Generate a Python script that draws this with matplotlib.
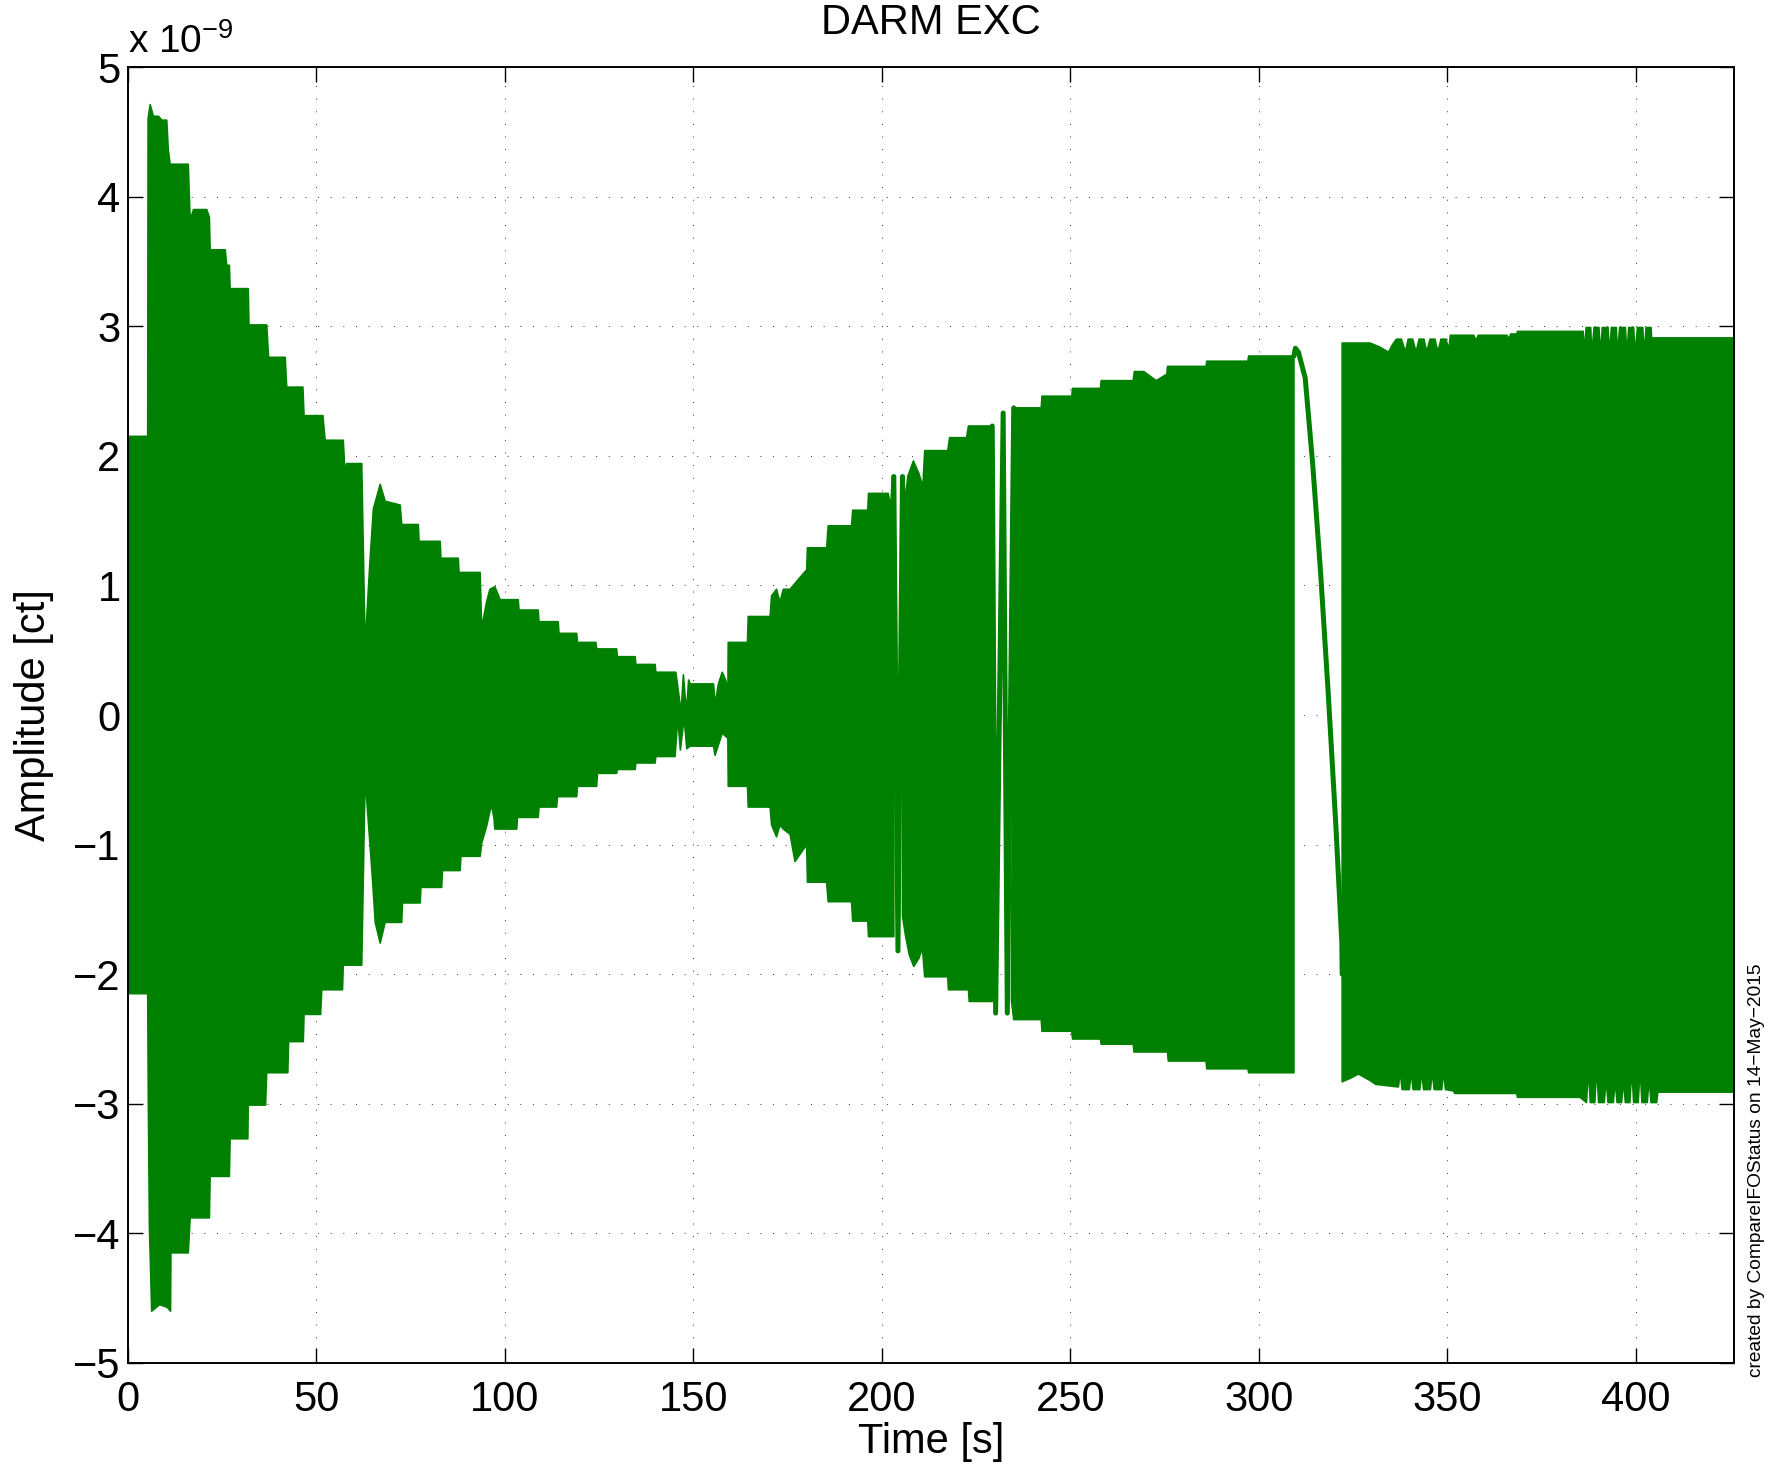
import numpy as np
import matplotlib
matplotlib.use("Agg")
import matplotlib.pyplot as plt
from matplotlib.ticker import FuncFormatter

plt.rcParams['font.family'] = ['Liberation Sans', 'DejaVu Sans']
plt.rcParams['mathtext.fontset'] = 'custom'
plt.rcParams['mathtext.rm'] = 'Liberation Sans'
plt.rcParams['mathtext.it'] = 'Liberation Sans:italic'

nan = np.nan
GREEN = '#008000'

# Envelope of the DARM excitation, amplitude in units of 1e-9 ct.
# NaN rows split the dense bursts where the drive swings slowly.
upper_env = [
    (0.0, 2.15), (5.35, 2.15), (5.45, 4.60), (6.0, 4.71), (6.85, 4.62), (8.2, 4.62),
    (9.1, 4.59), (10.4, 4.59), (10.8, 4.36), (11.3, 4.25), (16.1, 4.25), (16.6, 3.82),
    (17.5, 3.90), (21.0, 3.90), (21.7, 3.84), (21.9, 3.59), (25.9, 3.59), (26.3, 3.47),
    (27.0, 3.47), (27.2, 3.29), (32.0, 3.29), (32.2, 3.01), (36.9, 3.01), (37.4, 2.76),
    (41.8, 2.76), (42.2, 2.53), (46.5, 2.53), (46.8, 2.31), (51.8, 2.31), (52.4, 2.12),
    (57.2, 2.12), (57.7, 1.85), (58.1, 1.94), (62.1, 1.94), (63.0, 0.53), (64.3, 1.19),
    (65.2, 1.59), (67.0, 1.78), (68.3, 1.65), (72.3, 1.62), (72.7, 1.47), (77.1, 1.47),
    (77.3, 1.34), (82.9, 1.34), (83.1, 1.21), (87.7, 1.21), (87.9, 1.10), (93.5, 1.10),
    (93.9, 0.67), (95.2, 0.87), (96.1, 0.97), (97.4, 0.99), (98.8, 0.89), (103.6, 0.89),
    (103.8, 0.81), (108.9, 0.81), (109.1, 0.72), (114.2, 0.72), (114.4, 0.63), (119.1, 0.63),
    (119.3, 0.56), (124.2, 0.56), (124.4, 0.51), (129.7, 0.51), (129.9, 0.45), (134.6, 0.45),
    (134.8, 0.39), (139.9, 0.39), (140.1, 0.33), (145.4, 0.33), (146.8, 0.02), (147.4, 0.31),
    (148.2, 0.02), (148.8, 0.27), (149.2, 0.24), (155.4, 0.24), (155.8, 0.08), (156.7, 0.24),
    (157.7, 0.33), (158.6, 0.27), (159.2, 0.18), (159.3, 0.56), (164.4, 0.56), (164.6, 0.76),
    (170.4, 0.76), (170.8, 0.92), (172.1, 0.97), (173.0, 0.87), (173.9, 0.97), (175.7, 0.97),
    (178.0, 1.05), (180.1, 1.12), (180.3, 1.29), (185.4, 1.29), (185.8, 1.46), (192.0, 1.46),
    (192.3, 1.58), (196.3, 1.58), (196.5, 1.71), (201.7, 1.71), (202.4, 1.60), (202.8, 1.84),
    (203.2, 1.84),
    (nan, nan),
    (205.5, 1.84), (205.9, 1.84), (206.2, 1.63), (206.9, 1.84), (208.4, 1.96), (209.9, 1.86),
    (210.9, 1.76), (211.4, 2.04), (217.5, 2.04), (218.0, 2.14), (222.5, 2.14), (223.0, 2.23),
    (229.3, 2.23),
    (nan, nan),
    (235.0, 2.37), (242.3, 2.37), (242.5, 2.46), (250.4, 2.46), (250.6, 2.52), (258.0, 2.52),
    (258.2, 2.58), (266.7, 2.58), (267.0, 2.65), (269.5, 2.65), (272.8, 2.58), (275.6, 2.63),
    (275.8, 2.69), (286.0, 2.69), (286.2, 2.73), (297.1, 2.73), (297.3, 2.77), (309.3, 2.77),
    (nan, nan),
    (322.1, 2.87), (329.5, 2.87), (332.0, 2.84), (334.4, 2.80), (335.5, 2.86), (336.5, 2.90),
    (337.8, 2.90), (338.9, 2.80), (339.6, 2.90), (340.8, 2.90), (341.7, 2.80), (342.5, 2.90),
    (343.8, 2.90), (344.5, 2.80), (345.4, 2.90), (346.7, 2.90), (347.5, 2.80), (348.3, 2.90),
    (349.6, 2.90), (350.4, 2.82), (350.8, 2.93), (357.0, 2.93), (357.6, 2.89), (358.2, 2.93),
    (365.8, 2.93), (366.3, 2.90), (366.8, 2.94), (368.4, 2.94), (368.6, 2.96), (386.0, 2.96),
    (386.4, 2.80), (386.8, 2.99), (388.0, 2.99), (388.3, 2.78), (388.9, 2.99), (390.2, 2.99),
    (390.5, 2.78), (391.1, 2.99), (392.6, 2.99), (393.0, 2.78), (393.5, 2.99), (394.8, 2.99),
    (395.1, 2.78), (395.7, 2.99), (397.2, 2.99), (397.6, 2.78), (398.1, 2.99), (399.4, 2.99),
    (399.8, 2.78), (400.4, 2.99), (401.8, 2.99), (402.2, 2.78), (402.7, 2.99), (404.0, 2.99),
    (404.4, 2.80), (404.6, 2.91), (426.5, 2.91),
]

lower_env = [
    (0.0, -2.15), (5.35, -2.15), (5.5, -2.91), (5.8, -3.95), (6.0, -4.15), (6.4, -4.60),
    (8.5, -4.55), (10.5, -4.57), (11.4, -4.60), (11.5, -4.15), (16.1, -4.15), (16.6, -3.88),
    (21.7, -3.88), (21.9, -3.56), (27.0, -3.56), (27.2, -3.27), (31.9, -3.27), (32.0, -3.01),
    (36.6, -3.01), (36.9, -2.76), (42.5, -2.76), (42.7, -2.52), (46.6, -2.52), (46.8, -2.31),
    (51.2, -2.31), (51.5, -2.12), (57.0, -2.12), (57.2, -1.93), (62.1, -1.93), (63.0, -0.48),
    (64.8, -1.20), (65.7, -1.60), (67.0, -1.76), (68.3, -1.60), (72.7, -1.60), (72.9, -1.45),
    (77.6, -1.45), (77.8, -1.33), (83.3, -1.33), (83.5, -1.20), (88.2, -1.20), (88.4, -1.09),
    (93.5, -1.09), (93.9, -0.99), (95.2, -0.86), (96.5, -0.69), (97.2, -0.80), (97.4, -0.88),
    (103.2, -0.88), (103.4, -0.79), (108.9, -0.79), (109.1, -0.71), (113.8, -0.71), (114.0, -0.63),
    (119.1, -0.63), (119.3, -0.55), (124.4, -0.55), (124.6, -0.45), (129.7, -0.45), (129.9, -0.42),
    (134.6, -0.42), (134.8, -0.37), (139.9, -0.37), (140.1, -0.32), (145.2, -0.32), (145.9, -0.02),
    (146.6, -0.27), (147.6, -0.02), (148.3, -0.26), (149.2, -0.24), (155.4, -0.24), (155.8, -0.31),
    (156.8, -0.22), (157.7, -0.14), (159.2, -0.18), (159.3, -0.55), (164.4, -0.55), (164.6, -0.71),
    (170.4, -0.71), (170.8, -0.85), (172.1, -0.94), (173.0, -0.85), (173.9, -0.88), (175.7, -0.92),
    (177.0, -1.13), (180.1, -1.00), (180.3, -1.29), (185.4, -1.29), (185.8, -1.44), (192.0, -1.44),
    (192.3, -1.59), (196.3, -1.59), (196.5, -1.71), (203.2, -1.71),
    (nan, nan),
    (205.5, -1.55), (206.3, -1.70), (207.3, -1.85), (208.5, -1.94), (209.8, -1.88), (210.8, -1.80),
    (211.4, -2.02), (217.5, -2.02), (217.7, -2.12), (223.0, -2.12), (223.2, -2.21), (229.3, -2.21),
    (nan, nan),
    (234.4, -2.20), (235.0, -2.35), (242.3, -2.35), (242.5, -2.44), (250.4, -2.44), (250.6, -2.50),
    (258.0, -2.50), (258.2, -2.54), (266.7, -2.54), (266.9, -2.60), (275.8, -2.60), (276.0, -2.67),
    (286.0, -2.67), (286.2, -2.73), (297.1, -2.73), (297.3, -2.76), (309.3, -2.76),
    (nan, nan),
    (322.1, -2.83), (324.5, -2.80), (326.4, -2.77), (329.5, -2.82), (331.0, -2.85), (337.0, -2.87),
    (337.5, -2.75), (338.0, -2.89), (339.9, -2.89), (340.4, -2.75), (340.9, -2.89), (342.7, -2.89),
    (343.2, -2.75), (343.7, -2.89), (345.5, -2.89), (346.0, -2.75), (346.5, -2.89), (348.5, -2.89),
    (349.0, -2.75), (349.5, -2.89), (351.6, -2.90), (352.0, -2.92), (368.4, -2.92), (368.6, -2.95),
    (385.2, -2.95), (386.9, -2.99), (387.4, -2.72), (387.9, -2.99), (389.1, -2.99), (389.6, -2.70),
    (390.1, -2.99), (391.6, -2.99), (392.1, -2.80), (392.6, -2.99), (394.0, -2.99), (394.5, -2.82),
    (395.0, -2.99), (396.2, -2.99), (396.7, -2.82), (397.2, -2.99), (398.4, -2.99), (398.9, -2.72),
    (399.4, -2.99), (400.6, -2.99), (401.1, -2.72), (401.6, -2.99), (403.0, -2.99), (403.5, -2.80),
    (404.0, -2.99), (405.5, -2.99), (405.8, -2.91), (426.5, -2.91),
]

# slow swings of the drive that leave white gaps between the bursts
slow_trace = [
    (203.2, 1.84), (204.3, -1.82), (205.5, 1.84),
    (nan, nan),
    (229.3, 2.23), (230.2, -2.30), (232.2, 2.33), (233.3, -2.30), (235.0, 2.37),
    (nan, nan),
    (309.3, 2.77), (309.7, 2.83), (310.5, 2.80), (312.3, 2.60), (314.3, 1.93), (316.4, 1.09),
    (318.4, 0.17), (320.4, -0.84), (322.0, -1.75), (322.1, -2.0),
]

x_ticks = [0, 50, 100, 150, 200, 250, 300, 350, 400]
y_ticks = [-5, -4, -3, -2, -1, 0, 1, 2, 3, 4, 5]


def split_nan(pairs):
    arr = np.array(pairs, dtype=float)
    parts, cur = [], []
    for row in arr:
        if np.isnan(row[0]):
            parts.append(np.array(cur))
            cur = []
        else:
            cur.append(row)
    parts.append(np.array(cur))
    return parts


fig = plt.figure(figsize=(17.69, 14.67), dpi=100)
ax = fig.add_axes([0.0721, 0.0709, 0.9081, 0.8834])

# dense bursts as filled envelopes
for up, lo in zip(split_nan(upper_env), split_nan(lower_env)):
    xs = np.concatenate([up[:, 0], lo[::-1, 0]])
    ys = np.concatenate([up[:, 1], lo[::-1, 1]])
    ax.fill(xs, ys, color=GREEN, lw=1.2, joinstyle='round', zorder=2)

tr = np.array(slow_trace, dtype=float)
ax.plot(tr[:, 0], tr[:, 1], color=GREEN, lw=3.6, solid_capstyle='round',
        solid_joinstyle='round', zorder=3)

ax.set_xlim(0, 426)
ax.set_ylim(-5, 5)
ax.set_xticks(x_ticks)
ax.set_yticks(y_ticks)
ax.yaxis.set_major_formatter(FuncFormatter(lambda v, p: f"{v:g}".replace('-', '\u2212')))
ax.xaxis.set_major_formatter(FuncFormatter(lambda v, p: f"{v:g}"))

ax.set_axisbelow(True)
ax.grid(True, color='#333333', lw=0.7, linestyle=(0, (1, 12)))
ax.tick_params(direction='in', length=11, width=1.0, top=True, right=True,
               labelsize=30, color='black')
ax.tick_params(axis='x', pad=12)
ax.tick_params(axis='y', pad=5)
for sp in ax.spines.values():
    sp.set_linewidth(1.4)

ax.set_title('DARM EXC', fontsize=30, pad=24)
ax.set_xlabel('Time [s]', fontsize=30, labelpad=2)
ax.set_ylabel('Amplitude [ct]', fontsize=30, labelpad=14)

fig.text(128 / 1769, 1 - 53 / 1467, r'x 10$^{-9}$', fontsize=28, ha='left', va='baseline')
fig.text(1756 / 1769, 1 - 1377 / 1467,
         'created by CompareIFOStatus on 14\u2212May\u22122015',
         rotation=90, fontsize=13.8, ha='center', va='bottom')

fig.savefig('out.png', dpi=100)
